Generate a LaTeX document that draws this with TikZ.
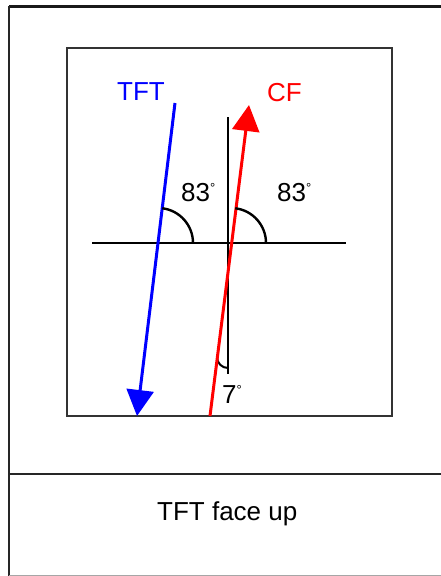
\documentclass[tikz,border=0pt]{standalone}
\usepackage{fontspec}
\setmainfont{Liberation Sans}
\usetikzlibrary{arrows.meta}
\newcommand\degr{\raisebox{9pt}{\fontsize{13}{13}\selectfont °}}
\tikzset{
  lbl/.style={font=\fontsize{26}{26}\selectfont, inner sep=0pt, anchor=base west},
  frameline/.style={line width=2.5pt, draw=black!85},
  ray/.style={line width=3pt},
  tip/.style={-{Triangle[length=26pt,width=27pt]}}
}
\begin{document}
\begin{tikzpicture}[x=1pt,y=1pt]
\useasboundingbox (0,0) rectangle (441,-576);
% outer frame
\draw[line width=3pt, draw=black!90] (9,-6.5) -- (441,-6.5);
\draw[frameline] (9,-6) -- (9,-576);
\draw[line width=2pt, draw=black!85] (9,-474) -- (441,-474);
\draw[line width=1pt, draw=black!35] (9,-575) -- (441,-575);
% inner box
\draw[line width=1.6pt, draw=black!80] (67,-48) rectangle (392,-416);
% axes
\coordinate (hl) at (92,-243);
\coordinate (hr) at (346,-243);
\coordinate (vt) at (228,-117);
\coordinate (vb) at (228,-374);
\draw[line width=2.6pt] (hl) -- (hr);
\draw[line width=2.4pt] (vt) -- (vb);
% 7 degree mark
\coordinate (sc) at (228,-357);
\draw[line width=2pt] (217,-357) arc[start angle=180, end angle=270, radius=11];
% TFT arrow
\coordinate (bt) at (175,-103);
\coordinate (bb) at (137,-416);
\draw[ray, tip, blue] (bt) -- (bb);
% CF arrow
\coordinate (rb) at (210,-416);
\coordinate (rt) at (249,-105);
\draw[ray, tip, red] (rb) -- (rt);
% angle arcs
\draw[line width=2.4pt] (193,-243) arc[start angle=0, end angle=83, radius=35];
\draw[line width=2.4pt] (266,-243) arc[start angle=0, end angle=83, radius=35];
% labels
\node[lbl, text=blue] (tft) at (117,-100) {TFT};
\node[lbl, text=red] (cf) at (267,-101) {CF};
\node[lbl] (a1) at (181,-201) {83\degr};
\node[lbl] (a2) at (277,-201) {83\degr};
\node[lbl] (a3) at (222,-403) {7\degr};
\node[lbl] (cap) at (157,-520) {TFT face up};
\end{tikzpicture}
\end{document}
